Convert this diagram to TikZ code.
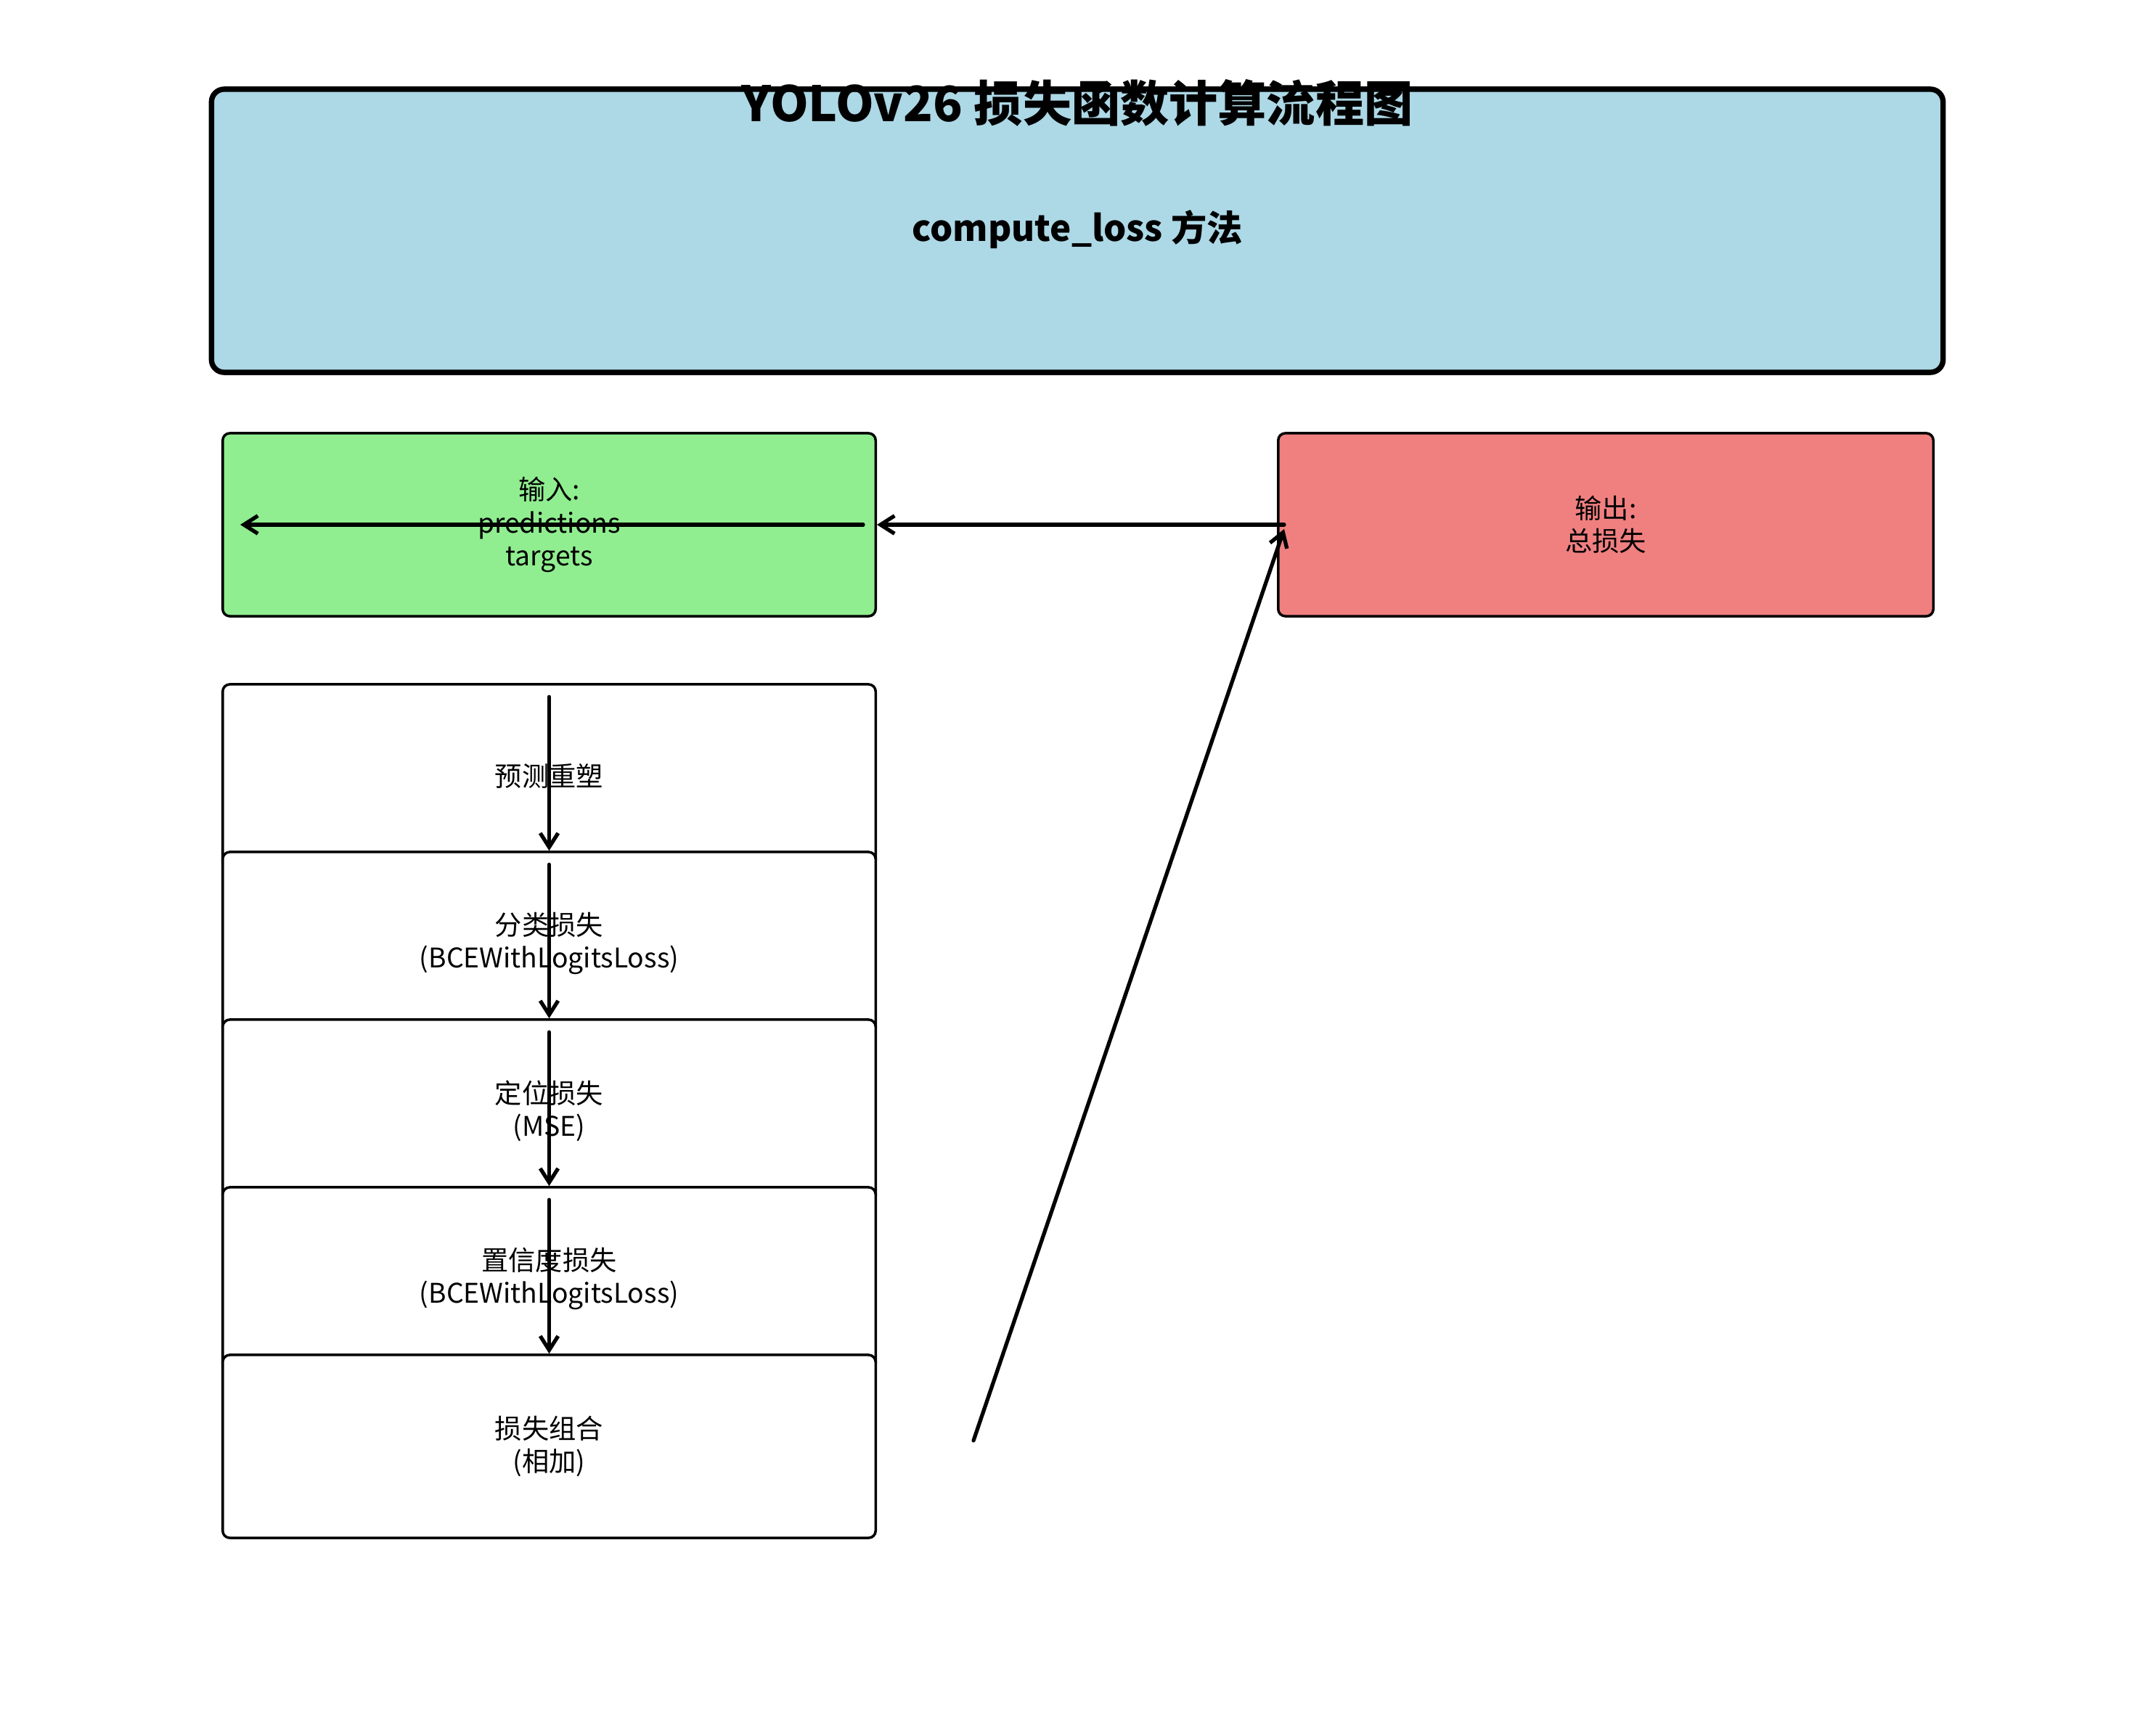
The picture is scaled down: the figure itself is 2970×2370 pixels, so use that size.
\documentclass[tikz,border=0pt]{standalone}
\usepackage{fontspec}
\setmainfont{Noto Sans CJK SC}
\usetikzlibrary{arrows.meta,calc}

\definecolor{hdrblue}{HTML}{ADD8E6}
\definecolor{ingreen}{HTML}{90EE90}
\definecolor{outred}{HTML}{F08080}

\tikzset{
  panel/.style={draw=black, line width=1pt, rounded corners=2.8pt,
    minimum width=8.99cm, minimum height=2.52cm, inner sep=0pt,
    align=center, font=\fontsize{10.6pt}{12.9pt}\selectfont},
  header/.style={draw=black, line width=2.1pt, rounded corners=5pt, fill=hdrblue,
    minimum width=23.84cm, minimum height=3.9cm, inner sep=0pt},
  flow/.style={line width=1.5pt, line cap=round,
    -{Straight Barb[length=5.5pt,width=7pt,line width=1.5pt]}}
}

\begin{document}
\begin{tikzpicture}[x=0.01cm, y=-0.01cm]
  \useasboundingbox (0,0) rectangle (2970,2370);

  % header
  \node[header] (hdr) at (1484,318) {};
  \node[font=\fontsize{14pt}{17pt}\selectfont\bfseries] (method) at (1484,316) {compute\_loss 方法};
  \node[font=\fontsize{19.1pt}{23pt}\selectfont\bfseries] (title) at (1484,142) {YOLOv26 损失函数计算流程图};

  % input / output
  \node[panel, fill=ingreen] (inp) at (756.5,723) {输入:\\predictions\\targets};
  \node[panel, fill=outred, minimum width=9.02cm] (outp) at (2212,723) {输出:\\总损失};

  % processing steps
  \node[panel, fill=white] (s1) at (756.5,1069) {预测重塑};
  \node[panel, fill=white] (s2) at (756.5,1300) {分类损失\\(BCEWithLogitsLoss)};
  \node[panel, fill=white] (s3) at (756.5,1531) {定位损失\\(MSE)};
  \node[panel, fill=white] (s4) at (756.5,1762) {置信度损失\\(BCEWithLogitsLoss)};
  \node[panel, fill=white] (s5) at (756.5,1993) {损失组合\\(相加)};

  % connectors
  \draw[flow] ($(outp.west)+(10,0)$) -- (inp.east);
  \draw[flow] ($(inp.east)+(-19,0)$) -- ($(inp.west)+(26,0)$);

  \draw[flow] ($(s1.north)+(0,19)$) -- (s2.north);
  \draw[flow] ($(s2.north)+(0,19)$) -- (s3.north);
  \draw[flow] ($(s3.north)+(0,19)$) -- (s4.north);
  \draw[flow] ($(s4.north)+(0,19)$) -- (s5.north);

  \coordinate (sumtail) at (1341,1985);
  \draw[flow] (sumtail) -- ($(outp.west)+(10,6)$);
\end{tikzpicture}
\end{document}
